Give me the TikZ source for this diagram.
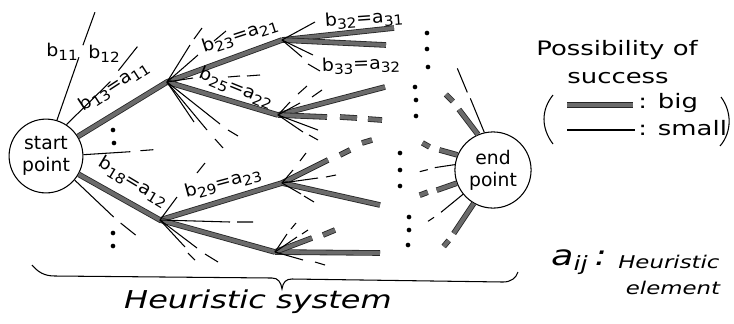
\documentclass[tikz,border=0pt]{standalone}
\usepackage{fontspec}
\setmainfont{DejaVu Sans}
\usetikzlibrary{positioning}
\newcommand{\sbs}[1]{\raisebox{-0.4ex}{\fontsize{12}{12}\selectfont #1}}

\begin{document}
\begin{tikzpicture}[x=0.03cm, y=-0.03cm,
    bigchance/.style={draw=black!85, line width=0.7pt, double=black!58, double distance=3.4pt},
    smallchance/.style={draw=black, line width=0.9pt},
    pointcircle/.style={circle, draw, line width=0.9pt, inner sep=0pt, align=center,
                        font=\fontsize{16}{19}\selectfont},
    lbl/.style={font=\fontsize{15}{17}\selectfont, xscale=1.08, inner sep=0pt},
    hand/.style={font=\fontsize{17}{20}\selectfont, xscale=1.3, inner sep=0pt},
  ]
  \useasboundingbox (0,0) rectangle (734,323);

  % Start and end point
  \node[pointcircle, minimum size=63pt] (start) at (46,156) {start\\point};
  \node[pointcircle, minimum size=65pt] (finish) at (493,170) {end\\point};

  % Heuristic elements
  \coordinate (a11) at (167,82);
  \coordinate (a12) at (160,220);
  \coordinate (a21) at (282,40);
  \coordinate (a22) at (278,115);
  \coordinate (a23) at (282,183);
  \coordinate (a24) at (275,252);

  % Big possibility of success
  \draw[bigchance] (start) -- (a11) -- (a21);
  \draw[bigchance] (a11) -- (a22);
  \draw[bigchance] (start) -- (a12) -- (a23);
  \draw[bigchance] (a12) -- (a24);
  \draw[bigchance] (a21) -- ++(112,-12);
  \draw[bigchance] (a21) -- ++(104,5);
  \draw[bigchance] (a22) -- ++(107,-28);
  \draw[bigchance] (a22) -- ++(49,2) ++(13,0) -- ++(17,1) ++(11,1) -- ++(14,1);
  \draw[bigchance] (a23) -- ++(46,-23) ++(12,-5) -- ++(10,-5) ++(12,-7) -- ++(10,-3);
  \draw[bigchance] (a23) -- ++(98,22);
  \draw[bigchance] (a24) -- ++(105,1);
  \draw[bigchance] (a24) -- ++(37,-14) ++(11,-3) -- ++(12,-5);

  % Small possibility of success
  \draw[smallchance] (start.73) -- ++(22,-63) ++(4,-12) -- ++(12,-33);
  \draw[smallchance] (start.57) -- ++(44,-43) ++(8,-11) -- ++(19,-24);
  \draw[smallchance] (start.2) -- ++(47,-3) ++(10,-1) -- ++(13,-1);
  \draw[smallchance] (start.-40) -- ++(39,37) ++(7,6) -- ++(15,12);

  \draw[smallchance] (a11) -- ++(23,-37) ++(4,-6) -- ++(8,-11);
  \draw[smallchance] (a11) -- ++(31,-27) ++(16,-14) -- ++(12,-10);
  \draw[smallchance] (a11) -- ++(26,-4) ++(35,-1) -- ++(12,-1) ++(7,0) -- ++(13,-1);
  \draw[smallchance] (a11) -- ++(53,42) ++(8,6) -- ++(10,6);
  \draw[smallchance] (a11) -- ++(40,48) ++(8,9) -- ++(8,9);
  \draw[smallchance] (a11) -- ++(27,40);

  \draw[smallchance] (a12) -- ++(17,-23) ++(20,-24) -- ++(8,-10);
  \draw[smallchance] (a12) -- ++(70,2) ++(7,0) -- ++(16,0);
  \draw[smallchance] (a12) -- ++(25,27) ++(3,6) -- ++(7,7);
  \draw[smallchance] (a12) -- ++(37,28) ++(8,6) -- ++(13,8);

  \draw[smallchance] (a21) -- ++(33,-18);
  \draw[smallchance] (a21) -- ++(31,15);
  \draw[smallchance] (a21) -- ++(20,17) ++(6,7) -- ++(12,7);

  \draw[smallchance] (a22) -- ++(12,-13) ++(8,-8) -- ++(9,-8);
  \draw[smallchance] (a22) -- ++(22,-12) ++(12,-6) -- ++(10,-7);
  \draw[smallchance] (a22) -- ++(40,15);
  \draw[smallchance] (a22) -- ++(25,17) ++(6,3) -- ++(9,5);

  \draw[smallchance] (a23) -- ++(11,-13) ++(7,-9) -- ++(6,-8);
  \draw[smallchance] (a23) -- ++(36,-5) ++(8,-1) -- ++(10,-2);
  \draw[smallchance] (a23) -- ++(19,11) ++(3,2) -- ++(10,6);

  \draw[smallchance] (a24) -- ++(12,-18) ++(4,-5) -- ++(5,-6);
  \draw[smallchance] (a24) -- ++(22,-15) ++(5,-3) -- ++(6,-4);
  \draw[smallchance] (a24) -- ++(28,8) ++(12,2) -- ++(10,3);

  % Into the end point
  \draw[smallchance] (finish.103) -- ++(-14,-34) ++(-3,-6) -- ++(-10,-24);
  \draw[bigchance] (finish.113) -- ++(-19,-25) ++(-6,-8) -- ++(-7,-7);
  \draw[bigchance] (finish.157) -- ++(-18,-5) ++(-10,-3) -- ++(-7,-4);
  \draw[smallchance] (finish.172) -- ++(-20,3) ++(-7,2) -- ++(-8,2);
  \draw[bigchance] (finish.200) -- ++(-20,7) ++(-9,2) -- ++(-8,3);
  \draw[smallchance] (finish.219) -- ++(-22,18) ++(-7,5) -- ++(-6,4);
  \draw[bigchance] (finish.240) -- ++(-20,30) ++(-5,7) -- ++(-5,6);

  % Dots
  \foreach \x/\y in {113/130, 114/143, 113/233, 113/246,
                     427/33, 427/49, 428/67, 415/87, 416/100, 416/116,
                     400/153, 400/170, 400/186, 409/217, 409/230, 408/245}
    \fill (\x,\y) circle (2pt);

  % Branch labels
  \node[lbl] at (62,52) {b\sbs{11}};
  \node[lbl] at (104,54) {b\sbs{12}};
  \node[rotate=33, lbl] at (114,86) {b\sbs{13}=a\sbs{11}};
  \node[rotate=-31, lbl] at (133,182) {b\sbs{18}=a\sbs{12}};
  \node[rotate=18, lbl] at (240,36) {b\sbs{23}=a\sbs{21}};
  \node[rotate=-22, lbl] at (236,88) {b\sbs{25}=a\sbs{22}};
  \node[rotate=15, lbl] at (223,183) {b\sbs{29}=a\sbs{23}};
  \node[rotate=4, lbl] at (364,19) {b\sbs{32}=a\sbs{31}};
  \node[rotate=2, lbl] at (361,65) {b\sbs{33}=a\sbs{32}};

  % Brace
  \draw[line width=0.9pt] (32,265) .. controls (38,272) and (44,276) .. (55,276)
    -- (272,278) .. controls (278,278) and (281,282) .. (282,289)
    .. controls (283,282) and (286,279) .. (292,279)
    -- (503,282) .. controls (511,282) and (516,278) .. (518,272);
  \node[hand, font=\fontsize{21}{24}\selectfont\itshape] (sys) at (258,302) {Heuristic system};

  % Legend
  \node[hand] (poss) at (617,50) {Possibility of};
  \node[hand] (succ) at (618,78) {success};
  \draw[line width=0.9pt] (553,95) .. controls (541,110) and (541,128) .. (553,144);
  \draw[line width=0.9pt] (721,97) .. controls (732,112) and (732,132) .. (720,146);
  \draw[bigchance] (567,105) -- (633,105);
  \node[hand, anchor=west] (big) at (638,103) {: big};
  \draw[smallchance] (567,130) -- (635,130);
  \node[hand, anchor=west] (sml) at (638,128) {: small};

  \node[hand, font=\fontsize{24}{26}\selectfont\itshape] (aij) at (579,262) {a\textsubscript{ij}\,:};
  \node[hand, font=\fontsize{15}{17}\selectfont\itshape, anchor=west] (heu) at (618,262) {Heuristic};
  \node[hand, font=\fontsize{15}{17}\selectfont\itshape] (elem) at (673,288) {element};
\end{tikzpicture}
\end{document}
